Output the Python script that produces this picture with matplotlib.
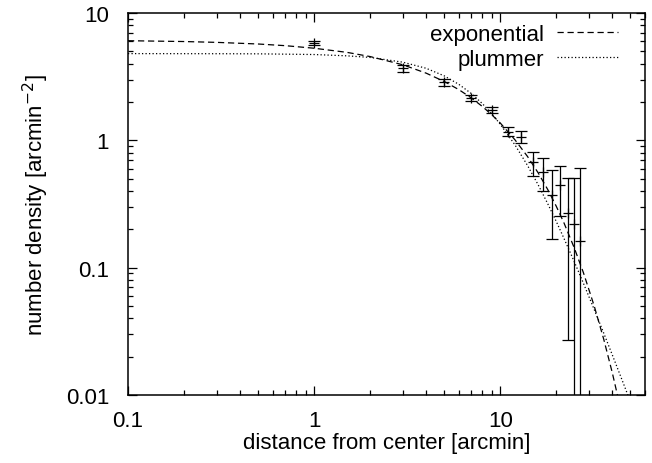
import numpy as np
import matplotlib.pyplot as plt
from matplotlib.ticker import FixedLocator, LogLocator, NullFormatter

plt.rcParams['font.family'] = ['Liberation Sans', 'DejaVu Sans']

# measured surface density profile
r_data = [1, 3, 5, 7, 9, 11, 13, 15, 17, 19, 21, 23, 25, 27]
n_data = [5.8, 3.68, 2.86, 2.15, 1.73, 1.17, 1.06, 0.67, 0.566, 0.375, 0.444, 0.267, 0.22, 0.161]
n_err = [0.2, 0.22, 0.17, 0.13, 0.1, 0.095, 0.115, 0.145, 0.165, 0.207, 0.19, 0.24, 0.29, 0.445]

# fitted curves
r_exp = [0.1, 0.2, 0.3, 0.5, 0.7, 1, 1.5, 2, 3, 4, 5, 6, 7, 8, 9, 10, 12, 14, 16, 18,
         20, 22, 25, 28, 32, 36, 40, 44]
n_exp = [6.06, 5.97, 5.88, 5.71, 5.54, 5.29, 4.91, 4.55, 3.92, 3.37, 2.90, 2.50, 2.15,
         1.85, 1.59, 1.37, 1.01, 0.749, 0.555, 0.411, 0.304, 0.225, 0.143, 0.0913,
         0.050, 0.0274, 0.0150, 0.0082]
r_plu = [0.1, 0.3, 0.5, 1, 1.5, 2, 3, 4, 5, 6, 7, 8, 9, 10, 12, 14, 16, 18, 20, 22, 25,
         28, 32, 36, 40, 45, 50]
n_plu = [4.80, 4.79, 4.78, 4.72, 4.61, 4.48, 4.11, 3.68, 3.21, 2.75, 2.33, 1.95, 1.62,
         1.34, 0.922, 0.637, 0.447, 0.318, 0.231, 0.170, 0.1115, 0.0754, 0.0469,
         0.0306, 0.0207, 0.0133, 0.0089]

fig = plt.figure(figsize=(6.52, 4.64), dpi=100)
ax = fig.add_axes([0.1963, 0.1466, 0.793, 0.8232])

ax.plot(r_exp, n_exp, color='black', lw=0.9, dashes=(5, 3), label='exponential')
ax.plot(r_plu, n_plu, color='black', lw=0.9, dashes=(1, 1.8), label='plummer')
ax.errorbar(r_data, n_data, yerr=n_err, fmt='+', color='black', ms=7, mew=0.9,
            elinewidth=0.9, capsize=4, capthick=0.9)

ax.set_xscale('log')
ax.set_yscale('log')
ax.set_xlim(0.1, 60)
ax.set_ylim(0.01, 10)

xt = [0.1, 1, 10]
yt = [0.01, 0.1, 1, 10]
ax.xaxis.set_major_locator(FixedLocator(xt))
ax.set_xticklabels(['0.1', '1', '10'])
ax.yaxis.set_major_locator(FixedLocator(yt))
ax.set_yticklabels(['0.01', '0.1', '1', '10'])
ax.xaxis.set_minor_locator(LogLocator(base=10, subs=np.arange(2, 10), numticks=20))
ax.yaxis.set_minor_locator(LogLocator(base=10, subs=np.arange(2, 10), numticks=20))
ax.xaxis.set_minor_formatter(NullFormatter())
ax.yaxis.set_minor_formatter(NullFormatter())

ax.tick_params(which='both', direction='in', top=True, right=True, labelsize=16,
               width=0.9, color='black')
ax.tick_params(axis='x', which='major', length=6.5, pad=11)
ax.tick_params(axis='y', which='major', length=6.5, pad=13.5)
ax.tick_params(which='minor', length=3.5)
for s in ax.spines.values():
    s.set_linewidth(1.1)

ax.set_xlabel('distance from center [arcmin]', fontsize=16, labelpad=0.5)
ax.set_ylabel('number density [arcmin$^{-2}$]', fontsize=16, labelpad=11)

ax.legend(loc='upper right', bbox_to_anchor=(0.948, 0.972), frameon=False,
          markerfirst=False, fontsize=16, handlelength=2.75, borderaxespad=0,
          borderpad=0, labelspacing=0.2, handletextpad=0.6)

fig.savefig('out.png', dpi=100)
